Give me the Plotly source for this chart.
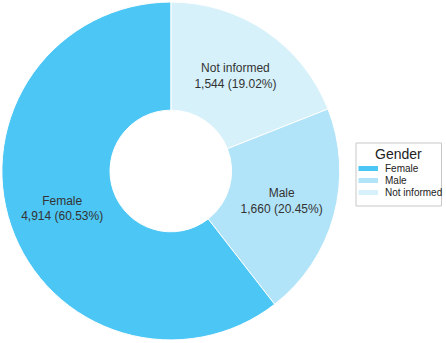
import plotly.graph_objects as go

labels = ["Female", "Male", "Not informed"]
values = [4914, 1660, 1544]
colors = ["#4CC6F4", "#B2E4F9", "#D6F1FA"]
legend_title = "Gender"

total = sum(values)
texts = [f"{l}<br>{v:,} ({v/total*100:.2f}%)" for l, v in zip(labels, values)]

# slices run clockwise from 12 o'clock: Not informed, Male, Female
fig = go.Figure(go.Pie(
    labels=labels[::-1], values=values[::-1], text=texts[::-1], textinfo="text",
    textposition="inside", insidetextorientation="horizontal",
    hole=0.36, sort=False, direction="clockwise",
    marker=dict(colors=colors[::-1], line=dict(color="white", width=1)),
    textfont=dict(family="Liberation Sans, Arial", size=12, color="#333333"),
    domain=dict(x=[0.004, 0.762], y=[0.009, 0.994]),
    showlegend=False,
))

# legend drawn in paper pixels
W, H = 446, 343
def px(x): return x / W
def py(y): return 1 - y / H

shapes = [dict(type="rect", xref="paper", yref="paper",
               x0=px(356), x1=px(441.5), y0=py(206), y1=py(143),
               line=dict(color="#c8c8c8", width=1), fillcolor="white", layer="above")]
annotations = [dict(text=legend_title, xref="paper", yref="paper", x=px(398.5), y=py(154),
                    xanchor="center", yanchor="middle", showarrow=False,
                    font=dict(family="Liberation Sans, Arial", size=14, color="#222222"))]
for i, (l, c) in enumerate(zip(labels, colors)):
    yc = 168.5 + 12 * i
    shapes.append(dict(type="rect", xref="paper", yref="paper",
                       x0=px(358.5), x1=px(378), y0=py(yc + 2.5), y1=py(yc - 2.5),
                       line=dict(width=0), fillcolor=c, layer="above"))
    annotations.append(dict(text=l, xref="paper", yref="paper", x=px(383), y=py(yc),
                            xanchor="left", yanchor="middle", showarrow=False,
                            font=dict(family="Liberation Sans, Arial", size=10, color="#222222")))

fig.update_layout(
    width=W, height=H,
    margin=dict(l=0, r=0, t=0, b=0, autoexpand=False),
    paper_bgcolor="white",
    shapes=shapes, annotations=annotations,
    font=dict(family="Liberation Sans, Arial"),
)
fig.write_html("out.html", config={"displayModeBar": False},
               post_script="document.body.style.margin='0';")
